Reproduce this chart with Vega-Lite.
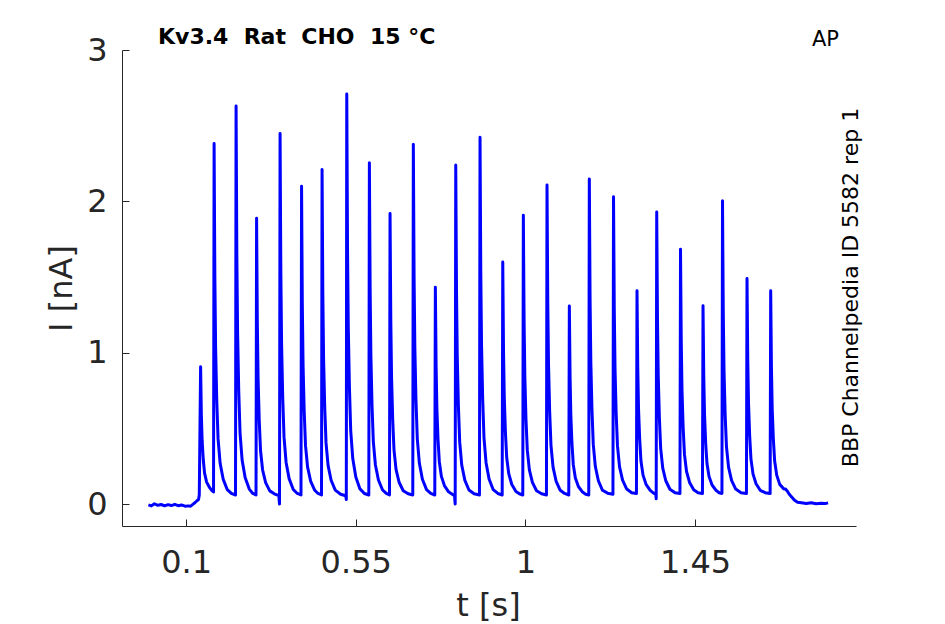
{
  "$schema": "https://vega.github.io/schema/vega-lite/v6.json",
  "autosize": {"type": "none"},
  "width": 734,
  "height": 476,
  "padding": {"left": 122, "top": 50, "right": 89, "bottom": 98},
  "background": "white",
  "config": {"view": {"stroke": null}, "font": "DejaVu Sans"},
  "title": {
    "text": "Kv3.4\u00a0\u00a0Rat\u00a0\u00a0CHO\u00a0\u00a015\u00a0°C",
    "anchor": "start", "frame": "group", "dx": 36, "baseline": "alphabetic", "offset": 0, "dy": 38,
    "font": "DejaVu Sans", "fontSize": 22, "fontWeight": "bold", "color": "black"
  },
  "data": {"values": [
    {"t":0.000,"i":-0.005},{"t":0.008,"i":-0.012},{"t":0.016,"i":0.002},{"t":0.025,"i":-0.008},{"t":0.034,"i":-0.003},{"t":0.043,"i":-0.012},{"t":0.052,"i":-0.004},{"t":0.061,"i":-0.010},{"t":0.070,"i":-0.002},{"t":0.079,"i":-0.011},{"t":0.088,"i":-0.006},{"t":0.097,"i":-0.014},{"t":0.106,"i":-0.012},{"t":0.112,"i":-0.014},{"t":0.118,"i":-0.002},{"t":0.124,"i":0.010},{"t":0.129,"i":0.022},{"t":0.133,"i":0.030},{"t":0.135,"i":0.060},
    {"t":0.1385,"i":0.907},{"t":0.1405,"i":0.589},{"t":0.1425,"i":0.422},{"t":0.1455,"i":0.296},{"t":0.149,"i":0.204},{"t":0.1545,"i":0.145},{"t":0.1625,"i":0.108},{"t":0.168,"i":0.09},{"t":0.1728,"i":0.08},
    {"t":0.1743,"i":2.383},{"t":0.1763,"i":1.500},{"t":0.1783,"i":1.036},{"t":0.1813,"i":0.687},{"t":0.1848,"i":0.432},{"t":0.1903,"i":0.269},{"t":0.1983,"i":0.165},{"t":0.2093,"i":0.095},{"t":0.220,"i":0.07},{"t":0.2311,"i":0.06},
    {"t":0.2326,"i":2.63},{"t":0.2346,"i":1.653},{"t":0.2366,"i":1.139},{"t":0.2396,"i":0.754},{"t":0.2431,"i":0.471},{"t":0.2486,"i":0.291},{"t":0.2566,"i":0.176},{"t":0.2676,"i":0.099},{"t":0.277,"i":0.07},{"t":0.2855,"i":0.06},
    {"t":0.2870,"i":1.888},{"t":0.2890,"i":1.193},{"t":0.2910,"i":0.828},{"t":0.2940,"i":0.554},{"t":0.2975,"i":0.352},{"t":0.3030,"i":0.225},{"t":0.3110,"i":0.142},{"t":0.3220,"i":0.087},{"t":0.334,"i":0.068},{"t":0.3460,"i":0.055},{"t":0.3478,"i":0.0},
    {"t":0.3493,"i":2.449},{"t":0.3513,"i":1.541},{"t":0.3533,"i":1.063},{"t":0.3563,"i":0.705},{"t":0.3598,"i":0.442},{"t":0.3653,"i":0.275},{"t":0.3733,"i":0.168},{"t":0.3843,"i":0.096},{"t":0.395,"i":0.07},{"t":0.4048,"i":0.06},
    {"t":0.4063,"i":2.10},{"t":0.4083,"i":1.325},{"t":0.4103,"i":0.917},{"t":0.4133,"i":0.611},{"t":0.4168,"i":0.386},{"t":0.4223,"i":0.244},{"t":0.4303,"i":0.152},{"t":0.4413,"i":0.091},{"t":0.450,"i":0.07},{"t":0.4592,"i":0.06},
    {"t":0.4607,"i":2.21},{"t":0.4627,"i":1.393},{"t":0.4647,"i":0.963},{"t":0.4677,"i":0.641},{"t":0.4712,"i":0.404},{"t":0.4767,"i":0.254},{"t":0.4847,"i":0.157},{"t":0.4957,"i":0.092},{"t":0.510,"i":0.065},{"t":0.5235,"i":0.055},{"t":0.5250,"i":0.03},
    {"t":0.5262,"i":2.71},{"t":0.5282,"i":1.703},{"t":0.5302,"i":1.173},{"t":0.5332,"i":0.776},{"t":0.5367,"i":0.484},{"t":0.5422,"i":0.299},{"t":0.5502,"i":0.179},{"t":0.5612,"i":0.100},{"t":0.573,"i":0.07},{"t":0.5847,"i":0.06},
    {"t":0.5862,"i":2.255},{"t":0.5882,"i":1.421},{"t":0.5902,"i":0.982},{"t":0.5932,"i":0.653},{"t":0.5967,"i":0.411},{"t":0.6022,"i":0.258},{"t":0.6102,"i":0.159},{"t":0.6212,"i":0.093},{"t":0.631,"i":0.07},{"t":0.6395,"i":0.06},
    {"t":0.6410,"i":1.92},{"t":0.6430,"i":1.213},{"t":0.6450,"i":0.841},{"t":0.6480,"i":0.562},{"t":0.6515,"i":0.358},{"t":0.6570,"i":0.227},{"t":0.6650,"i":0.144},{"t":0.6760,"i":0.088},{"t":0.689,"i":0.068},{"t":0.7013,"i":0.06},
    {"t":0.7028,"i":2.377},{"t":0.7048,"i":1.497},{"t":0.7068,"i":1.033},{"t":0.7098,"i":0.686},{"t":0.7133,"i":0.431},{"t":0.7188,"i":0.269},{"t":0.7268,"i":0.164},{"t":0.7378,"i":0.095},{"t":0.749,"i":0.07},{"t":0.7597,"i":0.06},
    {"t":0.7612,"i":1.432},{"t":0.7632,"i":0.911},{"t":0.7652,"i":0.636},{"t":0.7682,"i":0.430},{"t":0.7717,"i":0.280},{"t":0.7772,"i":0.183},{"t":0.7852,"i":0.122},{"t":0.7962,"i":0.081},{"t":0.806,"i":0.065},{"t":0.8120,"i":0.055},{"t":0.8138,"i":0.0},
    {"t":0.8153,"i":2.24},{"t":0.8173,"i":1.412},{"t":0.8193,"i":0.976},{"t":0.8223,"i":0.649},{"t":0.8258,"i":0.409},{"t":0.8313,"i":0.256},{"t":0.8393,"i":0.158},{"t":0.8503,"i":0.093},{"t":0.864,"i":0.068},{"t":0.8782,"i":0.06},
    {"t":0.8797,"i":2.423},{"t":0.8817,"i":1.525},{"t":0.8837,"i":1.052},{"t":0.8867,"i":0.698},{"t":0.8902,"i":0.438},{"t":0.8957,"i":0.273},{"t":0.9037,"i":0.166},{"t":0.9147,"i":0.095},{"t":0.927,"i":0.07},{"t":0.9385,"i":0.06},
    {"t":0.9400,"i":1.60},{"t":0.9420,"i":1.015},{"t":0.9440,"i":0.707},{"t":0.9470,"i":0.476},{"t":0.9505,"i":0.306},{"t":0.9560,"i":0.199},{"t":0.9640,"i":0.129},{"t":0.9750,"i":0.083},{"t":0.984,"i":0.068},{"t":0.9931,"i":0.06},
    {"t":0.9946,"i":1.908},{"t":0.9966,"i":1.206},{"t":0.9986,"i":0.836},{"t":1.0016,"i":0.559},{"t":1.0051,"i":0.356},{"t":1.0106,"i":0.226},{"t":1.0186,"i":0.143},{"t":1.0296,"i":0.088},{"t":1.043,"i":0.068},{"t":1.0559,"i":0.06},
    {"t":1.0574,"i":2.108},{"t":1.0594,"i":1.330},{"t":1.0614,"i":0.920},{"t":1.0644,"i":0.613},{"t":1.0679,"i":0.388},{"t":1.0734,"i":0.244},{"t":1.0814,"i":0.152},{"t":1.0924,"i":0.091},{"t":1.104,"i":0.07},{"t":1.1151,"i":0.06},
    {"t":1.1166,"i":1.308},{"t":1.1186,"i":0.834},{"t":1.1206,"i":0.584},{"t":1.1236,"i":0.397},{"t":1.1271,"i":0.260},{"t":1.1326,"i":0.172},{"t":1.1406,"i":0.116},{"t":1.1516,"i":0.079},{"t":1.160,"i":0.065},{"t":1.1681,"i":0.06},
    {"t":1.1696,"i":2.148},{"t":1.1716,"i":1.355},{"t":1.1736,"i":0.937},{"t":1.1766,"i":0.624},{"t":1.1801,"i":0.394},{"t":1.1856,"i":0.248},{"t":1.1936,"i":0.154},{"t":1.2046,"i":0.091},{"t":1.218,"i":0.072},{"t":1.2323,"i":0.065},
    {"t":1.2338,"i":2.03},{"t":1.2358,"i":1.285},{"t":1.2378,"i":0.893},{"t":1.2408,"i":0.599},{"t":1.2443,"i":0.384},{"t":1.2498,"i":0.246},{"t":1.2578,"i":0.158},{"t":1.2688,"i":0.099},{"t":1.282,"i":0.075},{"t":1.2946,"i":0.07},
    {"t":1.2961,"i":1.41},{"t":1.2981,"i":0.901},{"t":1.3001,"i":0.633},{"t":1.3031,"i":0.432},{"t":1.3066,"i":0.284},{"t":1.3121,"i":0.191},{"t":1.3201,"i":0.130},{"t":1.3311,"i":0.090},{"t":1.3400,"i":0.072},{"t":1.3460,"i":0.065},{"t":1.3470,"i":0.035},
    {"t":1.3484,"i":1.93},{"t":1.3504,"i":1.223},{"t":1.3524,"i":0.851},{"t":1.3554,"i":0.572},{"t":1.3589,"i":0.368},{"t":1.3644,"i":0.237},{"t":1.3724,"i":0.154},{"t":1.3834,"i":0.098},{"t":1.397,"i":0.075},{"t":1.4100,"i":0.07},
    {"t":1.4115,"i":1.683},{"t":1.4135,"i":1.070},{"t":1.4155,"i":0.747},{"t":1.4185,"i":0.506},{"t":1.4220,"i":0.328},{"t":1.4275,"i":0.215},{"t":1.4355,"i":0.143},{"t":1.4465,"i":0.094},{"t":1.458,"i":0.075},{"t":1.4697,"i":0.07},
    {"t":1.4712,"i":1.31},{"t":1.4732,"i":0.839},{"t":1.4752,"i":0.591},{"t":1.4782,"i":0.405},{"t":1.4817,"i":0.268},{"t":1.4872,"i":0.182},{"t":1.4952,"i":0.126},{"t":1.5062,"i":0.089},{"t":1.514,"i":0.075},{"t":1.5214,"i":0.07},
    {"t":1.5229,"i":2.004},{"t":1.5249,"i":1.269},{"t":1.5269,"i":0.882},{"t":1.5299,"i":0.592},{"t":1.5334,"i":0.379},{"t":1.5389,"i":0.244},{"t":1.5469,"i":0.157},{"t":1.5579,"i":0.099},{"t":1.572,"i":0.075},{"t":1.5864,"i":0.07},
    {"t":1.5879,"i":1.49},{"t":1.5899,"i":0.950},{"t":1.5919,"i":0.666},{"t":1.5949,"i":0.453},{"t":1.5984,"i":0.297},{"t":1.6039,"i":0.198},{"t":1.6119,"i":0.134},{"t":1.6229,"i":0.091},{"t":1.636,"i":0.075},{"t":1.6492,"i":0.07},
    {"t":1.6507,"i":1.41},{"t":1.6527,"i":0.901},{"t":1.6547,"i":0.633},{"t":1.6577,"i":0.432},{"t":1.6612,"i":0.284},{"t":1.6667,"i":0.191},{"t":1.6747,"i":0.130},{"t":1.6857,"i":0.100},{"t":1.690,"i":0.10},{"t":1.695,"i":0.085},{"t":1.700,"i":0.065},{"t":1.707,"i":0.045},{"t":1.714,"i":0.025},{"t":1.722,"i":0.012},{"t":1.732,"i":0.008},{"t":1.745,"i":0.003},{"t":1.758,"i":0.008},{"t":1.771,"i":0.002},{"t":1.784,"i":0.006},{"t":1.795,"i":0.003},{"t":1.803,"i":0.008}
  ]},
  "resolve": {"axis": {"x": "independent", "y": "independent"}},
  "layer": [
    {
      "mark": {"type": "line", "color": "#0000ff", "strokeWidth": 3, "strokeJoin": "round", "clip": true},
      "encoding": {
        "x": {"field": "t", "type": "quantitative",
              "scale": {"domain": [-0.07, 1.877], "nice": false, "zero": false},
              "axis": {"orient": "bottom", "values": [0.1, 0.55, 1, 1.45], "labelExpr": "format(datum.value, '.3~g')", "grid": false,
                       "domainColor": "#262626", "domainWidth": 1, "tickColor": "#262626", "tickSize": -7, "tickWidth": 1,
                       "labelFont": "DejaVu Sans", "labelFontSize": 32, "labelColor": "#262626", "labelBaseline": "alphabetic", "labelPadding": 53, "labelFlush": false,
                       "title": "t [s]", "titleFont": "DejaVu Sans", "titleFontSize": 32, "titleFontWeight": "normal", "titleColor": "#262626",
                       "titleX": 366, "titleY": 89, "titleBaseline": "alphabetic", "titleAlign": "center"}},
        "y": {"field": "i", "type": "quantitative",
              "scale": {"domain": [-0.145, 3], "nice": false, "zero": false},
              "axis": {"orient": "left", "values": [0, 1, 2, 3], "format": "d", "grid": false,
                       "domainColor": "#262626", "domainWidth": 1, "tickColor": "#262626", "tickSize": -7, "tickWidth": 1,
                       "labelFont": "DejaVu Sans", "labelFontSize": 32, "labelColor": "#262626", "labelPadding": 22, "labelFlush": false,
                       "title": "I [nA]", "titleFont": "DejaVu Sans", "titleFontSize": 32, "titleFontWeight": "normal", "titleColor": "#262626",
                       "titleAngle": 270, "titleX": -51, "titleY": 238, "titleBaseline": "alphabetic", "titleAlign": "center"}}
      }
    },
    {
      "mark": {"type": "line", "opacity": 0},
      "encoding": {
        "x": {"field": "t", "type": "quantitative",
              "scale": {"domain": [-0.07, 1.877], "nice": false, "zero": false},
              "axis": {"orient": "top", "domain": false, "ticks": false, "labels": false, "grid": false,
                       "title": "AP", "titleFont": "DejaVu Sans", "titleFontSize": 21, "titleFontWeight": "normal", "titleColor": "black",
                       "titleX": 703, "titleY": -5, "titleBaseline": "alphabetic", "titleAlign": "center", "titleAngle": 0}},
        "y": {"field": "i", "type": "quantitative",
              "scale": {"domain": [-0.145, 3], "nice": false, "zero": false},
              "axis": {"orient": "right", "domain": false, "ticks": false, "labels": false, "grid": false,
                       "title": "BBP Channelpedia ID 5582 rep 1", "titleFont": "DejaVu Sans", "titleFontSize": 22, "titleFontWeight": "normal", "titleColor": "black",
                       "titleAngle": 270, "titleX": 1, "titleY": 237, "titleBaseline": "alphabetic", "titleAlign": "center"}}
      }
    }
  ]
}
